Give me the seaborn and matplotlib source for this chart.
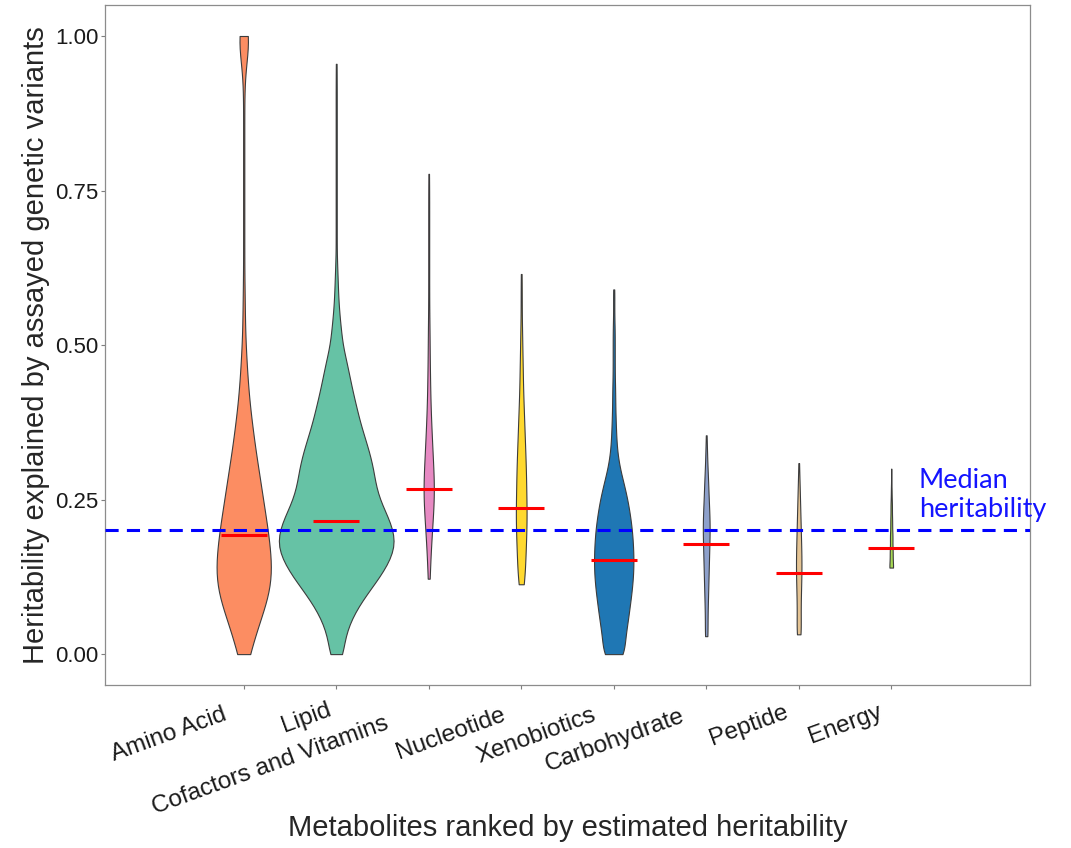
import numpy as np
import pandas as pd
import seaborn as sns
import matplotlib.pyplot as plt
import matplotlib.transforms as mtransforms

categories = ['Amino Acid', 'Lipid', 'Cofactors and Vitamins', 'Nucleotide',
              'Xenobiotics', 'Carbohydrate', 'Peptide', 'Energy']
colors = ['#FC8D62', '#66C2A5', '#E78AC3', '#FFD92F',
          '#1F77B4', '#8DA0CB', '#E5C494', '#A6D854']

# heritability values, with how many metabolites sit there
amino_h = [0.0, 0.025, 0.05, 0.075, 0.1, 0.125, 0.15, 0.175, 0.2, 0.225,
           0.25, 0.275, 0.3, 0.325, 0.35, 0.375, 0.4, 0.425, 0.45, 0.475,
           0.5, 0.525, 0.55, 0.575, 0.6, 0.625, 0.65, 0.675, 0.7, 0.725,
           0.75, 0.775, 0.8, 0.825, 0.85, 0.875, 0.9, 0.925, 0.95, 0.975, 1.0]
amino_n = [12, 17, 25, 36, 45, 49, 47, 44, 41, 37,
           32, 29, 25, 20, 17, 14, 10, 8, 6, 5,
           3, 2, 2, 2, 1, 1, 1, 1, 1, 1,
           1, 1, 1, 1, 1, 1, 1, 1, 2, 6, 18]

lipid_h = [0.0, 0.025, 0.05, 0.075, 0.1, 0.125, 0.15, 0.175, 0.2, 0.225,
           0.25, 0.275, 0.3, 0.325, 0.35, 0.375, 0.4, 0.425, 0.45, 0.475,
           0.5, 0.525, 0.55, 0.575, 0.6, 0.625, 0.65, 0.675, 0.7, 0.725,
           0.75, 0.775, 0.8, 0.825, 0.85, 0.875, 0.9, 0.925, 0.955]
lipid_n = [13, 16, 25, 40, 60, 82, 100, 111, 108, 96,
           82, 74, 70, 63, 54, 45, 38, 31, 25, 19,
           12, 9, 6, 4, 3, 2, 1, 1, 1, 1,
           1, 1, 1, 1, 1, 1, 1, 1, 1]

cofactor_h = [0.122, 0.15, 0.175, 0.2, 0.225, 0.25, 0.275, 0.3, 0.325, 0.35,
              0.375, 0.4, 0.425, 0.45, 0.475, 0.5, 0.525, 0.55, 0.575, 0.6,
              0.625, 0.65, 0.675, 0.7, 0.725, 0.75, 0.777]
cofactor_n = [3, 3, 5, 7, 9, 12, 12, 10, 8, 7,
              5, 4, 3, 3, 2, 2, 2, 1, 1, 1,
              1, 1, 1, 1, 1, 1, 1]

nucleotide_h = [0.113, 0.138, 0.163, 0.188, 0.213, 0.238, 0.263, 0.288, 0.313, 0.338,
                0.363, 0.388, 0.413, 0.438, 0.463, 0.488, 0.513, 0.538, 0.563, 0.588,
                0.615]
nucleotide_n = [6, 7, 8, 9, 10, 10, 9, 9, 8, 7,
                6, 5, 4, 3, 3, 2, 2, 1, 1, 1,
                1]

xeno_h = [0.0, 0.025, 0.05, 0.075, 0.1, 0.125, 0.15, 0.175, 0.2, 0.225,
          0.25, 0.275, 0.3, 0.325, 0.35, 0.375, 0.4, 0.425, 0.45, 0.475,
          0.5, 0.525, 0.55, 0.575, 0.59]
xeno_n = [22, 22, 27, 31, 35, 38, 39, 38, 36, 32,
          27, 20, 12, 7, 5, 4, 3, 3, 2, 2,
          2, 2, 1, 1, 1]

carb_h = [0.029, 0.054, 0.079, 0.104, 0.129, 0.154, 0.179, 0.204, 0.229, 0.254,
          0.279, 0.304, 0.329, 0.354]
carb_n = [4, 3, 4, 5, 6, 7, 8, 9, 8, 6, 5, 3, 2, 1]

peptide_h = [0.032, 0.057, 0.082, 0.107, 0.132, 0.157, 0.182, 0.207, 0.232, 0.257,
             0.282, 0.309]
peptide_n = [6, 5, 5, 6, 7, 7, 6, 5, 4, 3, 2, 1]

energy_h = [0.14, 0.165, 0.19, 0.215, 0.24, 0.265, 0.3]
energy_n = [11, 8, 7, 5, 4, 2, 1]

medians = [0.192, 0.216, 0.267, 0.236, 0.152, 0.178, 0.131, 0.171]
median_heritability = 0.2

groups = [(amino_h, amino_n), (lipid_h, lipid_n), (cofactor_h, cofactor_n),
          (nucleotide_h, nucleotide_n), (xeno_h, xeno_n), (carb_h, carb_n),
          (peptide_h, peptide_n), (energy_h, energy_n)]
frames = []
for name, (h, n) in zip(categories, groups):
    frames.append(pd.DataFrame({'group': name, 'h2': np.repeat(h, n)}))
df = pd.concat(frames, ignore_index=True)

sns.set_style('white')
plt.rcParams['font.family'] = ['Liberation Sans', 'DejaVu Sans']

fig = plt.figure(figsize=(10.71, 8.48), dpi=100)
ax = fig.add_axes([0.098, 0.1922, 0.8637, 0.8018])

sns.violinplot(data=df, x='group', y='h2', hue='group', order=categories,
               hue_order=categories, palette=colors, legend=False,
               density_norm='count', common_norm=True, cut=0, inner=None,
               width=1.24, bw_adjust=0.55, linewidth=0.8, linecolor='#3c3c3c',
               saturation=1, ax=ax)

ax.axhline(median_heritability, color='#0000ff', lw=2.2, ls=(0, (4.3, 2.7)), zorder=3)
x = np.arange(len(categories))
ax.hlines(medians, x - 0.25, x + 0.25, color='#ff0000', lw=2.2, zorder=4)

ax.text(7.3, median_heritability + 0.013, 'Median\nheritability', color='#1414ff',
        fontsize=19.5, family=['Lato', 'DejaVu Sans'], ha='left', va='bottom',
        clip_on=False)

ax.set_xlim(-1.5, 8.5)
ax.set_ylim(-0.05, 1.05)
ax.set_yticks([0, 0.25, 0.5, 0.75, 1.0])
ax.set_yticklabels(['0.00', '0.25', '0.50', '0.75', '1.00'])
ax.set_xticks(x)
ax.set_xticklabels([])
ax.tick_params(axis='both', direction='out', length=3, width=0.8, color='#7f7f7f',
               labelsize=16, pad=1.5, labelcolor='#1a1a1a')
ax.tick_params(axis='both', bottom=True, left=True)
for s in ax.spines.values():
    s.set_color('#8c8c8c')
    s.set_linewidth(0.9)

ax.set_xlabel('Metabolites ranked by estimated heritability', fontsize=21)
ax.set_ylabel('Heritability explained by assayed genetic variants', fontsize=21)
ax.xaxis.set_label_coords(0.5, -0.19)
ax.yaxis.set_label_coords(-0.059, 0.5)

# rotated category labels, slid down-left along their own direction
fig.canvas.draw()
renderer = fig.canvas.get_renderer()
ang = np.deg2rad(20)
for i, name in enumerate(categories):
    t = ax.text(i, -0.016, name, transform=ax.get_xaxis_transform(), fontsize=17.5,
                color='#1a1a1a', ha='right', va='top')
    shift = 0.19 * t.get_window_extent(renderer).width / fig.dpi
    t.set_rotation(20)
    t.set_rotation_mode('anchor')
    t.set_transform(ax.get_xaxis_transform() + mtransforms.ScaledTranslation(
        -shift * np.cos(ang), -shift * np.sin(ang), fig.dpi_scale_trans))

fig.savefig('out.png', dpi=100)
